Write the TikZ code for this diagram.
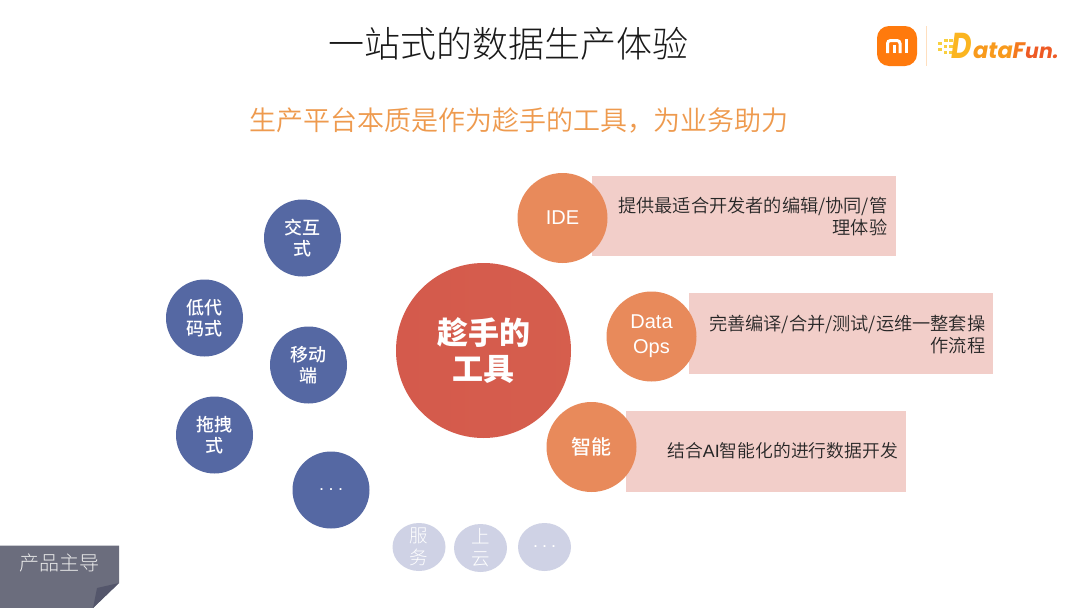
\documentclass[tikz,border=0pt]{standalone}
\usepackage{fontspec}
\setmainfont{Liberation Sans}
\newfontfamily\cjk{Noto Sans CJK SC}
\newfontfamily\cjkmed{Noto Sans CJK SC Medium}
\newfontfamily\cjklight{Noto Sans CJK SC Light}
\newfontfamily\cjkdemi{Noto Sans CJK SC DemiLight}
\newfontfamily\logofont{Poppins}
\usetikzlibrary{shapes.geometric}
\definecolor{navy}{HTML}{5568A3}
\definecolor{orange1}{HTML}{E88A5B}
\definecolor{pinkbox}{HTML}{F2CEC9}
\definecolor{paleb}{HTML}{CFD2E5}
\definecolor{subt}{HTML}{EE9A4E}
\definecolor{tabg}{HTML}{6B6D7D}
\definecolor{tabf}{HTML}{54566B}
\definecolor{redc}{HTML}{D45A4C}
\definecolor{miorange}{HTML}{FF7A0D}
\definecolor{dfa}{HTML}{FBB520}
\definecolor{dfb}{HTML}{F89A1C}
\definecolor{dfc}{HTML}{F47A1E}
\definecolor{dfd}{HTML}{EE5A24}
\definecolor{dfy}{HTML}{F9D040}
\tikzset{x=1pt,y=-1pt,
 blue circ/.style={circle,fill=navy,minimum size=77pt,inner sep=0pt,text=white,font=\cjkmed\fontsize{18}{21.5}\selectfont,align=center},
 pale circ/.style={ellipse,fill=paleb,minimum width=53pt,minimum height=48pt,inner sep=0pt},
 pale text/.style={inner sep=0pt,text=white,font=\cjklight\fontsize{18.5}{22}\selectfont,align=center},
 orange circ/.style={circle,fill=orange1,minimum size=90pt,inner sep=0pt,text=white,font=\fontsize{20}{25}\selectfont,align=center},
 pink box/.style={fill=pinkbox,inner sep=0pt,anchor=north west},
 box text/.style={font=\cjkdemi\fontsize{18.2}{22}\selectfont,text=black!85,align=right,inner sep=0pt},
 logo letter/.style={font=\logofont\fontsize{22.5}{25}\selectfont\bfseries\itshape,anchor=base west,inner sep=0pt},
}
\begin{document}
\begin{tikzpicture}
\useasboundingbox (0,0) rectangle (1080,608);
\fill[white] (0,0) rectangle (1080,608);
% titles
\node[font=\cjklight\fontsize{36}{40}\selectfont,text=black!90] (title) at (508.5,44) {一站式的数据生产体验};
\node[font=\cjkdemi\fontsize{27}{32}\selectfont,text=subt] (sub) at (519,120) {生产平台本质是作为趁手的工具，为业务助力};
% pink boxes
\node[pink box,minimum width=304pt,minimum height=80pt] (b1) at (592,176) {};
\node[pink box,minimum width=304pt,minimum height=81pt] (b2) at (689,293) {};
\node[pink box,minimum width=280pt,minimum height=81pt] (b3) at (626,411) {};
\node[box text,anchor=north east] (t1) at (887.5,197) {提供最适合开发者的编辑/协同/管\\理体验};
\node[box text,anchor=north east] (t2) at (985.5,314.5) {完善编译/合并/测试/运维一整套操\\作流程};
\node[box text,anchor=east,font=\cjkdemi\fontsize{17.8}{22}\selectfont] (t3) at (898,451) {结合{\rmfamily AI}智能化的进行数据开发};
% central
\node[circle,minimum size=175pt,inner sep=0pt,left color=redc,right color=redc!92!orange1,text=white,font=\cjk\fontsize{31}{36.5}\selectfont\bfseries,align=center] (hub) at (483.5,350.5) {趁手的\\工具};
% orange
\node[orange circ] (ide) at (562.5,218) {IDE};
\node[orange circ] (ops) at (651.5,336.5) {Data\\Ops};
\node[orange circ,font=\cjkmed\fontsize{20}{25}\selectfont] (ai) at (591.5,447) {智能};
% blue
\node[blue circ] (c1) at (302.5,238) {交互\\式};
\node[blue circ] (c2) at (204.5,318) {低代\\码式};
\node[blue circ] (c3) at (308.5,365) {移动\\端};
\node[blue circ] (c4) at (214.5,435) {拖拽\\式};
\node[blue circ,font=\fontsize{18}{20}\selectfont] (c5) at (331,490) {.\hspace{4.5pt}.\hspace{4.5pt}.};
% pale
\node[pale circ] (p1) at (419,547) {};
\node[pale text] (p1t) at (p1.center) {服\\务};
\node[pale circ] (p2) at (480.5,548) {};
\node[pale text] (p2t) at (p2.center) {上\\云};
\node[pale circ] (p3) at (544.5,547) {};
\node[pale text,font=\fontsize{18}{20}\selectfont] (p3t) at (p3.center) {.\hspace{4pt}.\hspace{4pt}.};
% tag
\fill[tabg] (0,545.5) -- (119,545.5) -- (119,583) -- (93,608) -- (0,608) -- cycle;
\fill[tabf] (119,583) -- (97,588) -- (93,608) -- cycle;
\node[font=\cjklight\fontsize{20}{22}\selectfont,text=white!92!black] (tag) at (59.5,563) {产品主导};
% logo
\fill[miorange,rounded corners=12pt] (877,26) rectangle (917,66);
\draw[white,line width=3pt,rounded corners=3pt] (887.5,53) -- (887.5,40.5) -- (900,40.5) -- (900,53);
\draw[white,line width=3pt] (894,45) -- (894,53) (906.5,39) -- (906.5,53);
\draw[orange!25,line width=.8pt] (926,26) -- (926,66);
\foreach \x/\y in {944/42,949/42,938/45,943.5/48,949/48,938/51,943.5/54,949/54}
 \fill[dfy] (\x,\y) rectangle ++(3.5,-3.5);
\node[logo letter,text=dfa,font=\logofont\fontsize{36}{36}\selectfont\bfseries\itshape] (dfD) at (951,58) {\scalebox{0.78}[1]{D}};
\node[logo letter,text=dfb] (dfa1) at (973,58) {ata};
\node[logo letter,text=dfc] (dfF) at (1012.5,58) {F};
\node[logo letter,text=dfd,font=\logofont\fontsize{20.5}{25}\selectfont\bfseries\itshape] (dfu) at (1025,58) {un.};
\end{tikzpicture}
\end{document}
